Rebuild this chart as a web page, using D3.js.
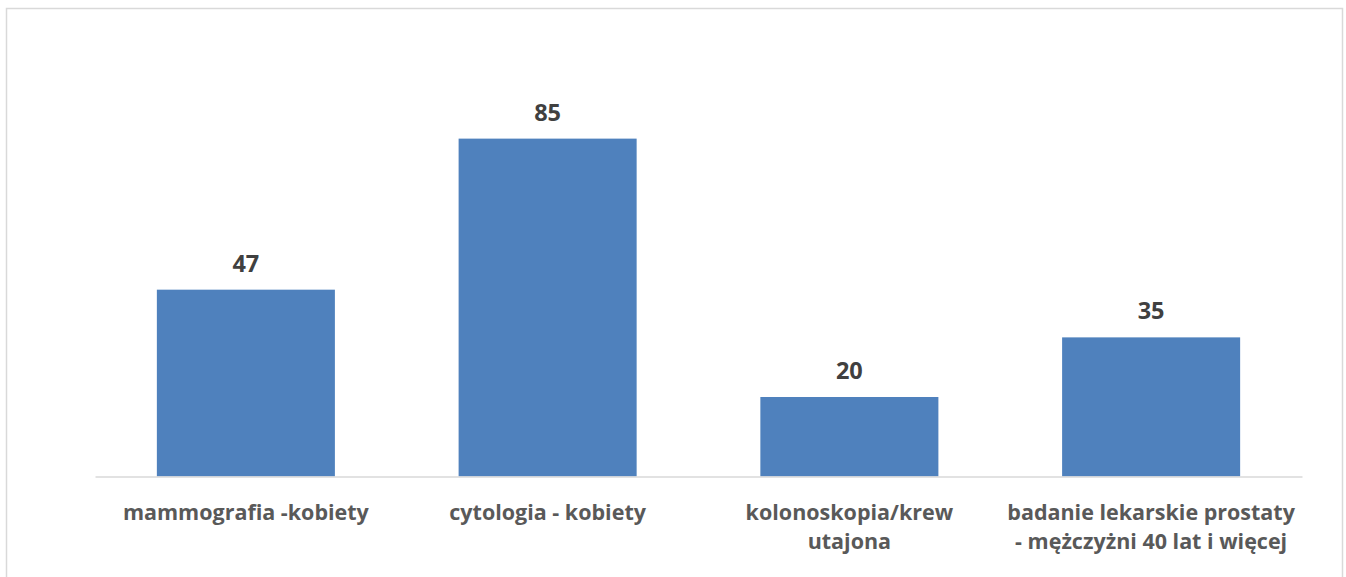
<!DOCTYPE html>
<html>
<head>
<meta charset="utf-8">
<script src="https://cdn.jsdelivr.net/npm/d3@7"></script>
<style>
  html, body { margin: 0; padding: 0; background: #fff; }
  svg { display: block; }
  text { font-family: "Open Sans", "Liberation Sans", sans-serif; }
</style>
</head>
<body>
<svg id="chart" width="1346" height="577"></svg>
<script>
const categories = [
  "mammografia -kobiety",
  "cytologia - kobiety",
  "kolonoskopia/krew\nutajona",
  "badanie lekarskie prostaty\n- mężczyżni 40 lat i więcej"
];
const values = [47, 85, 20, 35];
const yDomain = [0, 100];

const plot = { left: 95, right: 1302, top: 79, bottom: 476.5 };

const svg = d3.select("#chart");

// outer chart border
svg.append("rect")
  .attr("x", 6.5).attr("y", 8.5)
  .attr("width", 1336).attr("height", 600)
  .attr("fill", "#fff")
  .attr("stroke", "#D9D9D9")
  .attr("stroke-width", 1.5);

const x = d3.scaleBand()
  .domain(categories)
  .range([plot.left, plot.right])
  .paddingInner(0.41)
  .paddingOuter(0.205);

const y = d3.scaleLinear().domain(yDomain).range([plot.bottom, plot.top]);

// bars
svg.append("g").selectAll("rect")
  .data(categories)
  .join("rect")
  .attr("x", d => x(d))
  .attr("width", x.bandwidth())
  .attr("y", (d, i) => y(values[i]))
  .attr("height", (d, i) => y(0) - y(values[i]))
  .attr("fill", "#4F81BD");

// x axis
const xAxis = svg.append("g")
  .attr("transform", `translate(0,${plot.bottom})`)
  .call(d3.axisBottom(x).tickSize(0).tickSizeOuter(0).tickFormat(""));
xAxis.select(".domain").attr("stroke", "#D9D9D9").attr("stroke-width", 1.5);
xAxis.selectAll(".tick text").remove();

// category labels (multi-line)
const labelG = svg.append("g");
categories.forEach(cat => {
  const cx = x(cat) + x.bandwidth() / 2;
  const t = labelG.append("text")
    .attr("text-anchor", "middle")
    .attr("font-size", 21.5)
    .attr("font-weight", "bold")
    .attr("fill", "#595959");
  cat.split("\n").forEach((ln, k) => {
    t.append("tspan").attr("x", cx).attr("y", 519.5 + k * 29.5).text(ln);
  });
});

// value labels
svg.append("g").selectAll("text")
  .data(categories)
  .join("text")
  .attr("x", d => x(d) + x.bandwidth() / 2)
  .attr("y", (d, i) => y(values[i]) - 18)
  .attr("text-anchor", "middle")
  .attr("font-size", 23.5)
  .attr("font-weight", "bold")
  .attr("fill", "#404040")
  .text((d, i) => values[i]);
</script>
</body>
</html>
